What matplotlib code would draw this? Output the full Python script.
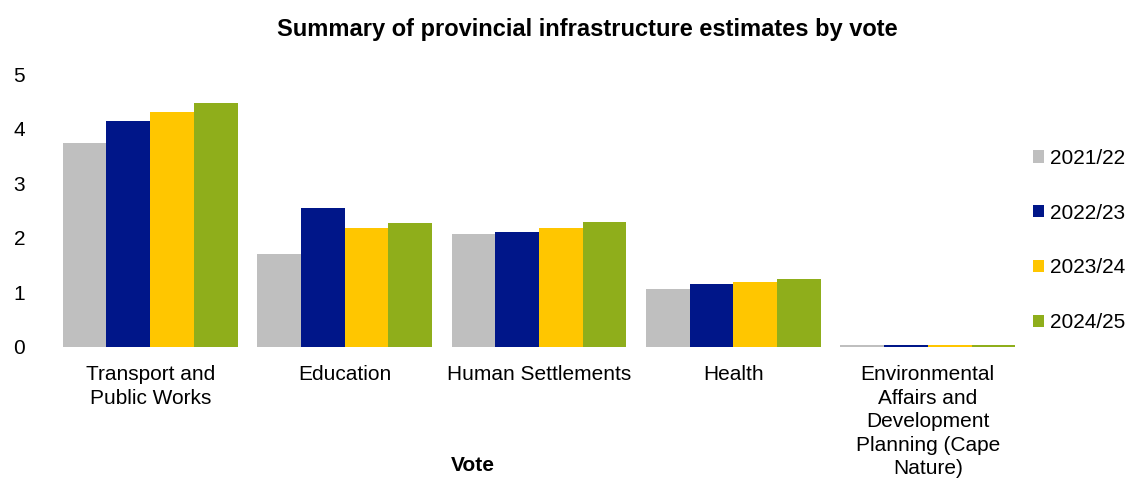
import numpy as np
import matplotlib
matplotlib.use('Agg')
import matplotlib.pyplot as plt

plt.rcParams['font.family'] = ['Liberation Sans', 'DejaVu Sans']

# Data
categories = ['Transport and\nPublic Works', 'Education', 'Human Settlements', 'Health',
              'Environmental\nAffairs and\nDevelopment\nPlanning (Cape\nNature)']
years = ['2021/22', '2022/23', '2023/24', '2024/25']
v2021 = [3.74, 1.70, 2.07, 1.06, 0.04]
v2022 = [4.14, 2.55, 2.11, 1.15, 0.04]
v2023 = [4.30, 2.18, 2.18, 1.19, 0.04]
v2024 = [4.47, 2.27, 2.29, 1.25, 0.04]
colors = ['#BFBFBF', '#001689', '#FFC600', '#8FAE1B']

fig = plt.figure(figsize=(11.29, 4.82), dpi=100)
ax = fig.add_axes([53 / 1129, 1 - 347 / 482, (1025 - 53) / 1129, (347 - 74) / 482])

x = np.arange(len(categories))
w = 0.225
for i, (vals, lab, c) in enumerate(zip([v2021, v2022, v2023, v2024], years, colors)):
    ax.bar(x + (i - 1.5) * w, vals, w, color=c, label=lab)

ax.set_xlim(-0.5, len(categories) - 0.5)
ax.set_ylim(0, 5)
ax.set_yticks(range(6))
ax.set_xticks(x)
ax.set_xticklabels(categories, fontsize=15, linespacing=1.3)
ax.tick_params(axis='y', length=0, labelsize=15, pad=20)
ax.tick_params(axis='x', length=0, pad=13)
for s in ax.spines.values():
    s.set_visible(False)

ax.set_xlabel('Vote', fontsize=15, fontweight='bold')
ax.xaxis.set_label_coords(0.432, -0.40)
fig.suptitle('Summary of provincial infrastructure estimates by vote',
             fontsize=17, fontweight='bold', x=0.52, y=0.962)

ax.legend(loc='center left', bbox_to_anchor=(1.0, 0.39), frameon=False, fontsize=15,
          handlelength=0.53, handleheight=0.53, handletextpad=0.25, labelspacing=1.72,
          borderaxespad=0.0)

fig.savefig('out.png', dpi=100)
